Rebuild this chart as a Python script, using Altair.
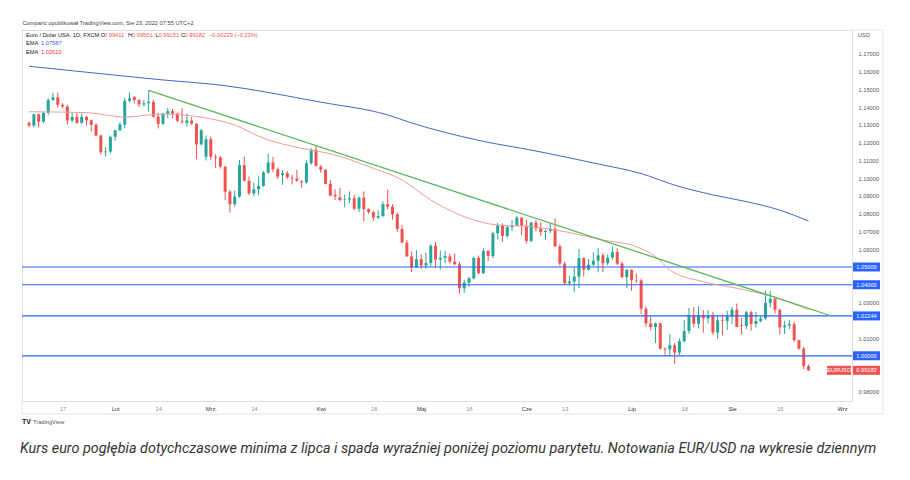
import json
import altair as alt
import pandas as pd

# ---------------- data (trading-day index 3 = 6 Jan 2022 ... 166 = 23 Aug 2022)
start_idx = 3
opens = [
    1.1312, 1.1296, 1.1360, 1.1318, 1.1368, 1.1440, 1.1455, 1.1413, 1.1404, 1.1325,
    1.1345, 1.1312, 1.1345, 1.1326, 1.1300, 1.1240, 1.1146, 1.1150, 1.1233, 1.1270,
    1.1302, 1.1436, 1.1458, 1.1440, 1.1415, 1.1422, 1.1430, 1.1347, 1.1306, 1.1364,
    1.1377, 1.1364, 1.1323, 1.1312, 1.1325, 1.1306, 1.1190, 1.1120, 1.1219, 1.1121,
    1.1117, 1.1065, 1.0924, 1.0853, 1.0896, 1.1074, 1.0986, 1.0914, 1.0937, 1.0956,
    1.1032, 1.1088, 1.1050, 1.1018, 1.1028, 1.1003, 1.0998, 1.0982, 1.0976, 1.1084,
    1.1159, 1.1065, 1.1047, 1.0968, 1.0905, 1.0892, 1.0877, 1.0880, 1.0887, 1.0828,
    1.0890, 1.0826, 1.0809, 1.0778, 1.0787, 1.0854, 1.0839, 1.0797, 1.0714, 1.0637,
    1.0560, 1.0498, 1.0544, 1.0508, 1.0522, 1.0620, 1.0541, 1.0550, 1.0560, 1.0530,
    1.0515, 1.0380, 1.0412, 1.0436, 1.0551, 1.0465, 1.0590, 1.0562, 1.0690, 1.0734,
    1.0675, 1.0724, 1.0733, 1.0778, 1.0733, 1.0647, 1.0750, 1.0717, 1.0697, 1.0703,
    1.0716, 1.0616, 1.0519, 1.0409, 1.0418, 1.0446, 1.0550, 1.0485, 1.0513, 1.0535,
    1.0566, 1.0521, 1.0553, 1.0583, 1.0519, 1.0443, 1.0484, 1.0426, 1.0424, 1.0265,
    1.0182, 1.0162, 1.0183, 1.0040, 1.0036, 1.0059, 1.0018, 1.0082, 1.0140, 1.0228,
    1.0180, 1.0229, 1.0211, 1.0224, 1.0131, 1.0200, 1.0196, 1.0222, 1.0260, 1.0172,
    1.0168, 1.0245, 1.0180, 1.0196, 1.0211, 1.0298, 1.0322, 1.0259, 1.0160, 1.0170,
    1.0178, 1.0088, 1.0040, 0.99411,
]
highs = [
    1.1318, 1.1364, 1.1363, 1.1375, 1.1450, 1.1482, 1.1482, 1.1422, 1.1414, 1.1369,
    1.1370, 1.1363, 1.1350, 1.1330, 1.1310, 1.1245, 1.1175, 1.1240, 1.1272, 1.1315,
    1.1452, 1.1483, 1.1462, 1.1446, 1.1440, 1.1495, 1.1440, 1.1368, 1.1368, 1.1395,
    1.1390, 1.1370, 1.1395, 1.1364, 1.1345, 1.1310, 1.1275, 1.1240, 1.1235, 1.1135,
    1.1125, 1.1070, 1.0935, 1.0930, 1.1102, 1.1121, 1.1010, 1.0975, 1.1010, 1.1040,
    1.1137, 1.1120, 1.1060, 1.1046, 1.1040, 1.1020, 1.1046, 1.0990, 1.1100, 1.1170,
    1.1185, 1.1075, 1.1050, 1.0990, 1.0937, 1.0945, 1.0905, 1.0925, 1.0906, 1.0897,
    1.0925, 1.0830, 1.0815, 1.0818, 1.0870, 1.0936, 1.0853, 1.0805, 1.0737, 1.0653,
    1.0589, 1.0594, 1.0571, 1.0580, 1.0628, 1.0641, 1.0593, 1.0590, 1.0575, 1.0575,
    1.0530, 1.0430, 1.0445, 1.0558, 1.0565, 1.0605, 1.0595, 1.0698, 1.0748, 1.0745,
    1.0735, 1.0765, 1.0787, 1.0780, 1.0765, 1.0754, 1.0765, 1.0752, 1.0710, 1.0748,
    1.0774, 1.0630, 1.0530, 1.0450, 1.0500, 1.0601, 1.0555, 1.0545, 1.0582, 1.0606,
    1.0580, 1.0570, 1.0615, 1.0606, 1.0530, 1.0487, 1.0486, 1.0463, 1.0435, 1.0276,
    1.0222, 1.0187, 1.0187, 1.0048, 1.0122, 1.0071, 1.0097, 1.0200, 1.0269, 1.0275,
    1.0278, 1.0258, 1.0258, 1.0248, 1.0224, 1.0234, 1.0254, 1.0275, 1.0294, 1.0213,
    1.0254, 1.0253, 1.0248, 1.0222, 1.0368, 1.0365, 1.0327, 1.0267, 1.0198, 1.0202,
    1.0191, 1.0091, 1.0050, 0.99501,
]
lows = [
    1.1286, 1.1286, 1.1285, 1.1313, 1.1355, 1.1436, 1.1400, 1.1395, 1.1301, 1.1315,
    1.1305, 1.1305, 1.1295, 1.1263, 1.1235, 1.1133, 1.1122, 1.1140, 1.1210, 1.1265,
    1.1280, 1.1425, 1.1420, 1.1400, 1.1405, 1.1374, 1.1340, 1.1280, 1.1300, 1.1338,
    1.1336, 1.1315, 1.1305, 1.1290, 1.1300, 1.1106, 1.1185, 1.1100, 1.1102, 1.1058,
    1.1055, 1.0877, 1.0806, 1.0840, 1.0890, 1.0980, 1.0905, 1.0900, 1.0905, 1.0952,
    1.1025, 1.1035, 1.0995, 1.0962, 1.0995, 1.0965, 1.0980, 1.0945, 1.0970, 1.1075,
    1.1065, 1.1030, 1.0965, 1.0898, 1.0876, 1.0870, 1.0836, 1.0860, 1.0820, 1.0808,
    1.0757, 1.0800, 1.0760, 1.0770, 1.0780, 1.0825, 1.0767, 1.0697, 1.0636, 1.0557,
    1.0472, 1.0494, 1.0489, 1.0490, 1.0505, 1.0493, 1.0485, 1.0520, 1.0520, 1.0510,
    1.0350, 1.0355, 1.0390, 1.0430, 1.0460, 1.0460, 1.0533, 1.0550, 1.0655, 1.0641,
    1.0665, 1.0701, 1.0730, 1.0680, 1.0630, 1.0640, 1.0700, 1.0675, 1.0653, 1.0690,
    1.0614, 1.0507, 1.0398, 1.0397, 1.0358, 1.0380, 1.0445, 1.0480, 1.0505, 1.0470,
    1.0470, 1.0510, 1.0540, 1.0510, 1.0436, 1.0382, 1.0366, 1.0410, 1.0236, 1.0162,
    1.0144, 1.0072, 1.0035, 0.9999, 0.9998, 0.9952, 1.0005, 1.0075, 1.0125, 1.0160,
    1.0153, 1.0130, 1.0182, 1.0118, 1.0095, 1.0114, 1.0145, 1.0180, 1.0161, 1.0122,
    1.0150, 1.0141, 1.0160, 1.0187, 1.0203, 1.0272, 1.0237, 1.0120, 1.0122, 1.0151,
    1.0078, 1.0034, 0.9926, 0.99151,
]
closes = [
    1.1296, 1.1360, 1.1318, 1.1368, 1.1440, 1.1455, 1.1413, 1.1404, 1.1325, 1.1345,
    1.1312, 1.1345, 1.1326, 1.1300, 1.1240, 1.1146, 1.1150, 1.1233, 1.1270, 1.1302,
    1.1436, 1.1450, 1.1440, 1.1415, 1.1422, 1.1430, 1.1347, 1.1306, 1.1364, 1.1377,
    1.1364, 1.1323, 1.1318, 1.1325, 1.1306, 1.1190, 1.1270, 1.1219, 1.1121, 1.1116,
    1.1065, 1.0924, 1.0853, 1.0896, 1.1074, 1.0986, 1.0914, 1.0937, 1.0956, 1.1032,
    1.1088, 1.1050, 1.1009, 1.1028, 1.1005, 1.0998, 1.0985, 1.0976, 1.1084, 1.1159,
    1.1069, 1.1047, 1.0968, 1.0902, 1.0898, 1.0877, 1.0880, 1.0887, 1.0828, 1.0890,
    1.0826, 1.0809, 1.0778, 1.0787, 1.0854, 1.0839, 1.0797, 1.0714, 1.0637, 1.0560,
    1.0498, 1.0544, 1.0508, 1.0522, 1.0620, 1.0541, 1.0550, 1.0560, 1.0530, 1.0515,
    1.0380, 1.0412, 1.0436, 1.0551, 1.0465, 1.0590, 1.0562, 1.0690, 1.0734, 1.0675,
    1.0724, 1.0733, 1.0778, 1.0733, 1.0647, 1.0750, 1.0717, 1.0697, 1.0703, 1.0716,
    1.0616, 1.0519, 1.0409, 1.0418, 1.0446, 1.0550, 1.0485, 1.0513, 1.0535, 1.0566,
    1.0521, 1.0553, 1.0583, 1.0519, 1.0443, 1.0484, 1.0426, 1.0424, 1.0265, 1.0182,
    1.0162, 1.0183, 1.0040, 1.0036, 1.0059, 1.0018, 1.0082, 1.0140, 1.0228, 1.0180,
    1.0229, 1.0211, 1.0224, 1.0131, 1.0200, 1.0196, 1.0222, 1.0260, 1.0162, 1.0168,
    1.0245, 1.0180, 1.0196, 1.0211, 1.0298, 1.0322, 1.0259, 1.0160, 1.0170, 1.0178,
    1.0088, 1.0040, 0.9942, 0.99182,
]

# EMA 200 (blue) and EMA 50 (red)
ema200_idx = [3, 21, 31, 43, 64, 78, 83, 97, 109, 122, 131, 138, 146, 153, 160, 166]
ema200_val = [1.1630, 1.1580, 1.1553, 1.1524, 1.1428, 1.1356, 1.1311, 1.1213, 1.1153,
              1.1080, 1.1026, 1.0961, 1.0906, 1.0868, 1.0820, 1.07587]
ema50_idx = [3, 15, 19, 23, 28, 32, 39, 46, 52, 60, 67, 74, 81, 87, 94, 101, 108, 115,
             123, 130, 134, 137, 144, 151, 158, 166]
ema50_val = [1.1374, 1.1369, 1.1356, 1.1343, 1.1356, 1.1361, 1.1343, 1.1299, 1.1225,
             1.1168, 1.1131, 1.1065, 1.0990, 1.0877, 1.0783, 1.0736, 1.0727, 1.0699,
             1.0652, 1.0614, 1.0558, 1.0483, 1.0417, 1.0380, 1.0337, 1.02610]

trend_idx = [28, 170.8]
trend_val = [1.1495, 1.0224]

levels = [1.05, 1.04, 1.02244, 1.00]
level_labels = ["1.05000", "1.04000", "1.02244", "1.00000"]
last_close = [0.99182]
last_label = ["0.99182"]

tick_idx = [10, 21, 30, 41, 50, 64, 75, 85, 95, 107, 115, 129, 140, 150, 160, 173]
tick_lbl = ["17", "Lut", "14", "Mrz.", "14", "Kwi", "18", "Maj", "16", "Cze", "13",
            "Lip", "18", "Sie", "15", "Wrz"]
month_idx = [21, 41, 64, 85, 107, 129, 150, 173]
# price-scale labels that stay visible (the others sit under the coloured price boxes)
price_ticks = [1.17, 1.16, 1.15, 1.14, 1.13, 1.12, 1.11, 1.10, 1.09, 1.08, 1.07, 1.06,
               1.03, 1.01, 0.98]

# ---------------- styling
TEAL = "#26a69a"
RED = "#ef5350"
BLUE = "#2962ff"
FONT = "Liberation Sans"
FS = 5.7
W, H = 830, 371

df = pd.DataFrame({
    "idx": list(range(start_idx, start_idx + len(closes))),
    "o": opens, "h": highs, "l": lows, "c": closes,
})

xscale = alt.Scale(domain=[2.562, 174.05], nice=False, zero=False)
yscale = alt.Scale(domain=[0.97454, 1.18343], nice=False, zero=False)

label_expr = f"{json.dumps(tick_lbl)}[indexof({json.dumps(tick_idx)}, datum.value)]"
xaxis = alt.Axis(values=tick_idx, labelExpr=label_expr, title=None, grid=False,
                 domain=False, ticks=False, labelFontSize=FS, labelFont=FONT,
                 labelPadding=4, labelOverlap=False, labelFlush=False,
                 labelColor={"condition": {"test": f"indexof({json.dumps(month_idx)}, datum.value) >= 0",
                                           "value": "#333333"}, "value": "#8a8a8a"})
yaxis = alt.Axis(values=price_ticks, format=".5f", orient="right", title=None, grid=False,
                 domain=False, ticks=False, labelFontSize=FS, labelFont=FONT,
                 labelPadding=6, labelColor="#555555", labelAlign="left",
                 labelOverlap=False, labelFlush=False)

X = lambda f: alt.X(f, scale=xscale, axis=xaxis)
Y = lambda f: alt.Y(f, scale=yscale, axis=yaxis)

color = alt.condition("datum.c >= datum.o", alt.value(TEAL), alt.value(RED))
base = alt.Chart(df)

wicks = base.mark_rule(strokeWidth=1).encode(x=X("idx:Q"), y=Y("l:Q"), y2="h:Q", color=color)
bodies = base.mark_bar(size=3).encode(x=X("idx:Q"), y=Y("o:Q"), y2="c:Q", color=color)

ema200 = alt.Chart(pd.DataFrame({"idx": ema200_idx, "v": ema200_val})).mark_line(
    color="#3f67c6", strokeWidth=1, interpolate="monotone").encode(x=X("idx:Q"), y=Y("v:Q"))
ema50 = alt.Chart(pd.DataFrame({"idx": ema50_idx, "v": ema50_val})).mark_line(
    color="#f59a9a", strokeWidth=1, interpolate="monotone").encode(x=X("idx:Q"), y=Y("v:Q"))
trend = alt.Chart(pd.DataFrame({"idx": trend_idx, "v": trend_val})).mark_line(
    color="#5cb85c", strokeWidth=1.3).encode(x=X("idx:Q"), y=Y("v:Q"))

lev_df = pd.DataFrame({"level": levels, "label": level_labels})
lev_lines = alt.Chart(lev_df).mark_rule(color=BLUE, strokeWidth=1.2).encode(y=Y("level:Q"))
lev_boxes = alt.Chart(lev_df).mark_rect(color=BLUE, yOffset=-4.5, y2Offset=4.5).encode(
    y=Y("level:Q"), y2="level:Q", x=alt.value(831), x2=alt.value(858))
lev_text = alt.Chart(lev_df).mark_text(color="white", fontSize=FS, font=FONT,
                                       align="center", baseline="middle").encode(
    y=Y("level:Q"), x=alt.value(844.5), text="label:N")

last_df = pd.DataFrame({"v": last_close, "label": last_label, "sym": ["EURUSD"]})
last_box = alt.Chart(last_df).mark_rect(color=RED, yOffset=-4.5, y2Offset=4.5).encode(
    y=Y("v:Q"), y2="v:Q", x=alt.value(831), x2=alt.value(858))
sym_box = alt.Chart(last_df).mark_rect(color=RED, yOffset=-4.5, y2Offset=4.5).encode(
    y=Y("v:Q"), y2="v:Q", x=alt.value(805), x2=alt.value(829))
last_text = alt.Chart(last_df).mark_text(color="white", fontSize=FS, font=FONT,
                                         align="center", baseline="middle").encode(
    y=Y("v:Q"), x=alt.value(844.5), text="label:N")
sym_text = alt.Chart(last_df).mark_text(color="white", fontSize=FS, font=FONT,
                                        align="center", baseline="middle").encode(
    y=Y("v:Q"), x=alt.value(817), text="sym:N")

one = pd.DataFrame({"a": [0]})
frame_col = "#e0e3eb"
frame = [
    alt.Chart(one).mark_rule(color=frame_col).encode(x=alt.value(830), x2=alt.value(861), y=alt.value(0)),
    alt.Chart(one).mark_rule(color=frame_col).encode(x=alt.value(861), y=alt.value(0), y2=alt.value(384)),
    alt.Chart(one).mark_rule(color=frame_col).encode(x=alt.value(0), x2=alt.value(861), y=alt.value(384)),
    alt.Chart(one).mark_rule(color=frame_col).encode(x=alt.value(0), y=alt.value(371), y2=alt.value(384)),
]


def txt(s, x, y, col="#131722", size=FS, weight="normal", style="normal", font=FONT):
    return alt.Chart(pd.DataFrame({"t": [s]})).mark_text(
        align="left", baseline="middle", fontSize=size, font=font, color=col,
        fontWeight=weight, fontStyle=style).encode(x=alt.value(x), y=alt.value(y), text="t:N")


texts = [
    txt("Comparic opublikował TradingView.com, Sie 23, 2022 07:55 UTC+2", 0.5, -7, "#444444"),
    txt("Euro / Dolar USA, 1D, FXCM", 4, 5),
    txt("O", 78.5, 5), txt("0.99411", 82, 5, RED),
    txt("H", 106, 5), txt("0.99501", 110, 5, RED),
    txt("L", 133.5, 5), txt("0.99151", 136.5, 5, RED),
    txt("C", 159, 5), txt("0.99182", 162.5, 5, RED),
    txt("\u22120.00229 (\u22120.23%)", 187, 5, RED),
    txt("EMA", 4, 12.7), txt("1.07587", 19, 12.7, BLUE),
    txt("EMA", 4, 21.7), txt("1.02610", 19, 21.7, "#f23645"),
    txt("USD", 836, 5, "#555555"),
    txt("TV", 0, 392, "#131722", 7, "bold"),
    txt("TradingView", 11, 392, "#555555"),
    txt("Kurs euro pogłębia dotychczasowe minima z lipca i spada wyraźniej poniżej poziomu parytetu. "
        "Notowania EUR/USD na wykresie dziennym", -2, 419, "#333333", 14.4, "normal", "italic", "Roboto"),
]

chart = alt.layer(
    wicks, bodies, lev_lines, ema200, ema50, trend,
    lev_boxes, lev_text, sym_box, last_box, last_text, sym_text,
    *frame, *texts,
).properties(
    width=W, height=H,
    autosize=alt.AutoSizeParams(type="none"),
    padding={"left": 14, "top": 22, "right": 50, "bottom": 70},
).configure_view(stroke=frame_col, strokeWidth=1).configure(background="white")

chart.save("out.html", embed_options={"renderer": "svg", "actions": False})
